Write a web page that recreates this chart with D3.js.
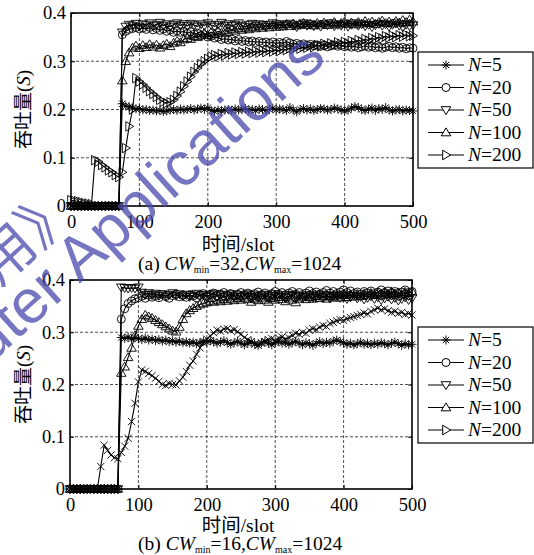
<!DOCTYPE html>
<html><head><meta charset="utf-8">
<script src="https://cdn.jsdelivr.net/npm/d3@7"></script>
<style>body{margin:0;background:#fff}svg{display:block}</style>
</head><body>
<svg id="c" width="534" height="555"></svg>
<script>
// ---------- data ----------
const slots = d3.range(0, 501, 5);
const seriesNames = ["5", "20", "50", "100", "200"];
const xTicks = [0, 100, 200, 300, 400, 500];
const yTicks = [0, 0.1, 0.2, 0.3, 0.4];
const yTickLabels = ["0", "0.1", "0.2", "0.3", "0.4"];
const z15 = [0,0,0,0,0,0,0,0,0,0,0,0,0,0,0];

// (a) CWmin=32, CWmax=1024
const a_N5 = z15.concat([.212,.207,.206,.203,.201,.202,.199,.2,.198,.199,.197,.198,.196,.197,.199,.2,.198,.201,.199,.2,.202,.199,.201,.203,.2,.204,.198,.196,.199,.197,.199,.2,.198,.201,.199,.2,.202,.199,.2,.198,.201,.2,.198,.2,.203,.199,.201,.2,.198,.204,.199,.195,.2,.202,.199,.201,.198,.2,.202,.201,.199,.2,.203,.201,.199,.197,.199,.203,.206,.204,.2,.198,.201,.203,.198,.202,.2,.204,.199,.197,.199,.2,.197,.199,.198,.197]);
const a_N20 = z15.concat([.355,.362,.366,.368,.37,.367,.369,.366,.37,.365,.368,.364,.367,.362,.365,.36,.363,.36,.362,.358,.361,.356,.358,.353,.355,.35,.352,.348,.35,.345,.347,.344,.346,.342,.345,.341,.343,.34,.342,.339,.341,.338,.34,.337,.34,.336,.339,.337,.341,.338,.335,.337,.334,.336,.333,.335,.332,.334,.331,.333,.33,.332,.334,.331,.333,.33,.332,.329,.331,.328,.33,.332,.329,.331,.328,.33,.327,.329,.331,.328,.33,.327,.329,.326,.328,.327]);
const a_N50 = z15.concat([.36,.372,.376,.374,.378,.372,.377,.375,.379,.373,.376,.38,.374,.377,.372,.376,.379,.374,.377,.373,.378,.375,.372,.377,.374,.379,.375,.372,.376,.38,.374,.377,.373,.376,.379,.374,.371,.376,.378,.373,.377,.375,.372,.376,.379,.374,.377,.373,.376,.378,.374,.371,.376,.379,.374,.377,.373,.376,.372,.377,.375,.379,.373,.376,.374,.378,.372,.376,.379,.374,.377,.373,.376,.371,.375,.378,.374,.377,.372,.376,.379,.374,.371,.376,.373,.375]);
const a_N100 = z15.concat([.26,.3,.318,.328,.332,.327,.333,.329,.335,.33,.334,.328,.333,.336,.331,.338,.342,.339,.345,.348,.346,.352,.35,.355,.358,.354,.36,.357,.362,.359,.364,.361,.366,.363,.368,.365,.369,.366,.371,.368,.372,.369,.374,.37,.375,.371,.376,.372,.377,.373,.378,.374,.376,.379,.375,.378,.374,.379,.376,.38,.375,.378,.381,.376,.379,.382,.377,.38,.376,.381,.378,.383,.379,.382,.377,.381,.384,.379,.382,.378,.383,.38,.385,.381,.386,.382]);
const a_N200 = [.012,.011,.01,.008,.006,.005,.004,.095,.092,.085,.08,.074,.07,.064,.06,.07,.12,.165,.2,.265,.258,.252,.245,.238,.232,.226,.22,.216,.213,.215,.22,.228,.237,.248,.258,.268,.278,.286,.294,.3,.305,.31,.313,.31,.315,.312,.317,.314,.318,.315,.319,.316,.32,.317,.321,.318,.322,.319,.323,.32,.324,.321,.326,.323,.327,.325,.329,.326,.33,.328,.332,.329,.334,.331,.336,.333,.337,.334,.339,.336,.34,.337,.342,.339,.344,.341,.346,.343,.348,.345,.35,.347,.352,.349,.353,.35,.354,.351,.355,.352,.353];

// (b) CWmin=16, CWmax=1024
const b_N5 = z15.concat([.29,.288,.291,.287,.29,.288,.286,.289,.285,.287,.284,.286,.283,.285,.282,.284,.281,.283,.28,.282,.279,.281,.278,.28,.283,.281,.284,.282,.279,.281,.284,.28,.277,.28,.283,.279,.276,.279,.282,.278,.275,.28,.283,.279,.276,.28,.283,.279,.281,.277,.28,.283,.279,.276,.28,.278,.275,.279,.282,.278,.281,.279,.283,.285,.282,.28,.277,.279,.276,.278,.281,.277,.279,.276,.279,.277,.28,.278,.276,.279,.281,.278,.275,.278,.276,.277]);
const b_N20 = z15.concat([.325,.345,.355,.36,.364,.366,.369,.365,.371,.367,.37,.366,.372,.368,.365,.37,.373,.368,.371,.367,.372,.369,.366,.371,.374,.369,.372,.375,.37,.373,.376,.371,.374,.37,.373,.376,.372,.375,.371,.374,.377,.372,.375,.371,.374,.378,.373,.376,.372,.375,.378,.373,.376,.372,.375,.379,.374,.377,.373,.376,.38,.375,.378,.374,.377,.381,.376,.379,.374,.377,.373,.378,.375,.379,.374,.377,.381,.376,.379,.375,.378,.374,.377,.381,.376,.378]);
const b_N50 = z15.concat([.386,.385,.384,.385,.384,.386,.376,.372,.375,.371,.374,.37,.373,.369,.372,.375,.37,.373,.369,.372,.368,.371,.374,.369,.372,.368,.371,.374,.369,.372,.367,.37,.373,.368,.371,.367,.37,.373,.368,.371,.366,.369,.372,.367,.37,.373,.368,.371,.366,.369,.372,.367,.37,.365,.368,.371,.366,.369,.372,.367,.37,.365,.368,.371,.366,.369,.364,.367,.37,.365,.368,.363,.366,.369,.364,.367,.362,.365,.368,.363,.366,.361,.364,.367,.362,.365]);
const b_N100 = z15.concat([.222,.234,.252,.27,.294,.312,.325,.333,.33,.327,.323,.319,.315,.311,.307,.303,.301,.31,.325,.336,.342,.346,.35,.353,.355,.357,.36,.358,.362,.359,.363,.36,.364,.361,.365,.362,.366,.363,.358,.364,.361,.366,.362,.358,.365,.362,.367,.363,.359,.366,.362,.357,.364,.368,.363,.367,.364,.369,.365,.368,.364,.369,.366,.37,.366,.371,.367,.372,.368,.373,.369,.374,.37,.375,.371,.376,.372,.377,.373,.378,.374,.376,.372,.377,.374,.378]);
const b_N200 = [0,0,0,0,0,0,0,0,0,.043,.084,.074,.065,.06,.058,.07,.082,.097,.129,.164,.205,.228,.225,.221,.217,.212,.206,.2,.198,.202,.2,.199,.207,.214,.225,.237,.245,.258,.27,.28,.287,.293,.299,.304,.302,.306,.307,.303,.305,.301,.296,.29,.286,.282,.277,.275,.279,.282,.286,.288,.284,.289,.291,.287,.29,.294,.298,.296,.3,.298,.304,.307,.305,.31,.313,.311,.317,.319,.322,.324,.323,.326,.328,.33,.332,.334,.337,.335,.34,.343,.346,.343,.345,.341,.338,.34,.336,.338,.334,.336,.333];

// ---------- drawing ----------
const svg = d3.select("#c");
const SERIF = "'Liberation Serif','Times New Roman',serif";
const CJK = "'Noto Sans CJK SC',sans-serif";

const markerPaths = {
  star: "M-4.5,0H4.5M0,-4.5V4.5M-3.2,-3.2L3.2,3.2M-3.2,3.2L3.2,-3.2",
  circle: "M4,0A4,4 0 1 1 -4,0A4,4 0 1 1 4,0Z",
  down: "M-4.8,-3.3L4.8,-3.3L0,4.6Z",
  up: "M-4.8,3.3L4.8,3.3L0,-4.6Z",
  right: "M-3.3,-4.8L-3.3,4.8L4.6,0Z",
  cross: "M-3.6,-3.6L3.6,3.6M-3.6,3.6L3.6,-3.6"
};
const legendMarkers = ["star", "circle", "down", "up", "right"];

const panels = [
  { box: {l: 71, r: 413, t: 13, b: 206}, series: [a_N5, a_N20, a_N50, a_N100, a_N200],
    markers: ["star", "circle", "down", "up", "right"], tag: "(a) ", cwmin: "32",
    legend: {x: 418, y: 52}, xlab: 251, cap: 270 },
  { box: {l: 70, r: 412, t: 280, b: 489}, series: [b_N5, b_N20, b_N50, b_N100, b_N200],
    markers: ["star", "circle", "down", "up", "cross"], tag: "(b) ", cwmin: "16",
    legend: {x: 418, y: 327}, xlab: 532, cap: 550 }
];

panels.forEach(p => {
  const B = p.box;
  const x = d3.scaleLinear().domain([0, 500]).range([B.l, B.r]);
  const y = d3.scaleLinear().domain([0, 0.4]).range([B.b, B.t]);
  const g = svg.append("g");

  // grid
  g.selectAll(".gx").data(xTicks.slice(1, -1)).join("line")
    .attr("x1", d => x(d)).attr("x2", d => x(d)).attr("y1", B.t).attr("y2", B.b)
    .attr("stroke", "#222").attr("stroke-width", 0.8).attr("stroke-dasharray", "3,2");
  g.selectAll(".gy").data(yTicks.slice(1, -1)).join("line")
    .attr("x1", B.l).attr("x2", B.r).attr("y1", d => y(d)).attr("y2", d => y(d))
    .attr("stroke", "#222").attr("stroke-width", 0.8).attr("stroke-dasharray", "3,2");

  // axes (inward ticks)
  g.append("g").attr("transform", `translate(0,${B.b})`)
    .call(d3.axisBottom(x).tickValues(xTicks).tickSize(-4).tickPadding(9));
  g.append("g").attr("transform", `translate(${B.l},0)`)
    .call(d3.axisLeft(y).tickValues(yTicks).tickSize(-4).tickPadding(5)
      .tickFormat((d, i) => yTickLabels[i]));
  g.append("g").attr("transform", `translate(0,${B.t})`)
    .call(d3.axisTop(x).tickValues(xTicks).tickSize(-4).tickFormat(""));
  g.append("g").attr("transform", `translate(${B.r},0)`)
    .call(d3.axisRight(y).tickValues(yTicks).tickSize(-4).tickFormat(""));
  g.selectAll(".domain").remove();
  g.selectAll(".tick line").attr("stroke", "#000").attr("stroke-width", 1);
  g.selectAll(".tick text").attr("font-family", SERIF).attr("font-size", 18.5).attr("fill", "#000");

  // lines & markers
  const clipId = "clip" + B.t;
  svg.append("clipPath").attr("id", clipId).append("rect")
    .attr("x", B.l - 6).attr("y", B.t - 6).attr("width", B.r - B.l + 12).attr("height", B.b - B.t + 12);
  const data = g.append("g").attr("clip-path", `url(#${clipId})`);
  const line = d3.line().x((d, i) => x(slots[i])).y(d => y(d));
  p.series.forEach((s, k) => {
    data.append("path").attr("d", line(s)).attr("fill", "none")
      .attr("stroke", "#000").attr("stroke-width", 1.1);
    data.append("g").selectAll("path").data(s).join("path")
      .attr("transform", (d, i) => `translate(${x(slots[i])},${y(d)})`)
      .attr("d", markerPaths[p.markers[k]])
      .attr("fill", "none").attr("stroke", "#000").attr("stroke-width", 0.9);
  });

  // frame
  g.append("rect").attr("x", B.l).attr("y", B.t).attr("width", B.r - B.l).attr("height", B.b - B.t)
    .attr("fill", "none").attr("stroke", "#000").attr("stroke-width", 1.6);

  // y label
  const yl = g.append("text").attr("transform", `translate(30,${(B.t + B.b) / 2}) rotate(-90)`)
    .attr("text-anchor", "middle").attr("font-size", 19).attr("fill", "#000");
  yl.append("tspan").attr("font-family", CJK).text("吞吐量");
  yl.append("tspan").attr("font-family", SERIF).text("(");
  yl.append("tspan").attr("font-family", SERIF).attr("font-style", "italic").text("S");
  yl.append("tspan").attr("font-family", SERIF).text(")");

  // x label
  const xl = g.append("text").attr("x", 238).attr("y", p.xlab).attr("text-anchor", "middle")
    .attr("font-size", 19.5).attr("fill", "#000");
  xl.append("tspan").attr("font-family", CJK).text("时间");
  xl.append("tspan").attr("font-family", SERIF).text("/slot");

  // caption
  const cp = g.append("text").attr("x", 138).attr("y", p.cap).attr("font-family", SERIF)
    .attr("font-size", 19.5).attr("fill", "#000");
  cp.append("tspan").text(p.tag);
  cp.append("tspan").attr("font-style", "italic").text("CW");
  cp.append("tspan").attr("font-size", 10).attr("dy", 3).text("min");
  cp.append("tspan").attr("dy", -3).text("=" + p.cwmin + ",");
  cp.append("tspan").attr("font-style", "italic").text("CW");
  cp.append("tspan").attr("font-size", 10).attr("dy", 3).text("max");
  cp.append("tspan").attr("dy", -3).text("=1024");

  // legend
  const L = p.legend;
  const lg = g.append("g");
  lg.append("rect").attr("x", L.x).attr("y", L.y).attr("width", 115).attr("height", 116)
    .attr("fill", "#fff").attr("stroke", "#000").attr("stroke-width", 1.2);
  seriesNames.forEach((n, k) => {
    const cy = L.y + 13 + k * 22.5;
    lg.append("line").attr("x1", L.x + 10).attr("x2", L.x + 46).attr("y1", cy).attr("y2", cy)
      .attr("stroke", "#000").attr("stroke-width", 1.2);
    lg.append("path").attr("transform", `translate(${L.x + 28},${cy})`).attr("d", markerPaths[legendMarkers[k]])
      .attr("fill", "#fff").attr("stroke", "#000").attr("stroke-width", 1);
    const t = lg.append("text").attr("x", L.x + 50).attr("y", cy + 6).attr("font-family", SERIF)
      .attr("font-size", 19.5).attr("fill", "#000");
    t.append("tspan").attr("font-style", "italic").text("N");
    t.append("tspan").text("=" + n);
  });
});

// watermark
const wm = svg.append("g").attr("fill", "#4848ad").attr("opacity", 0.75)
  .attr("font-family", "'Liberation Sans',Arial,sans-serif").attr("font-size", 62);
wm.append("text").attr("transform", "translate(328,60) rotate(-42)").attr("text-anchor", "end")
  .text("Journal of Computer Applications");
wm.append("text").attr("transform", "translate(82,212) rotate(-42)").attr("text-anchor", "end")
  .attr("font-family", CJK).attr("font-size", 56).text("《计算机应用》");
</script>
</body></html>
